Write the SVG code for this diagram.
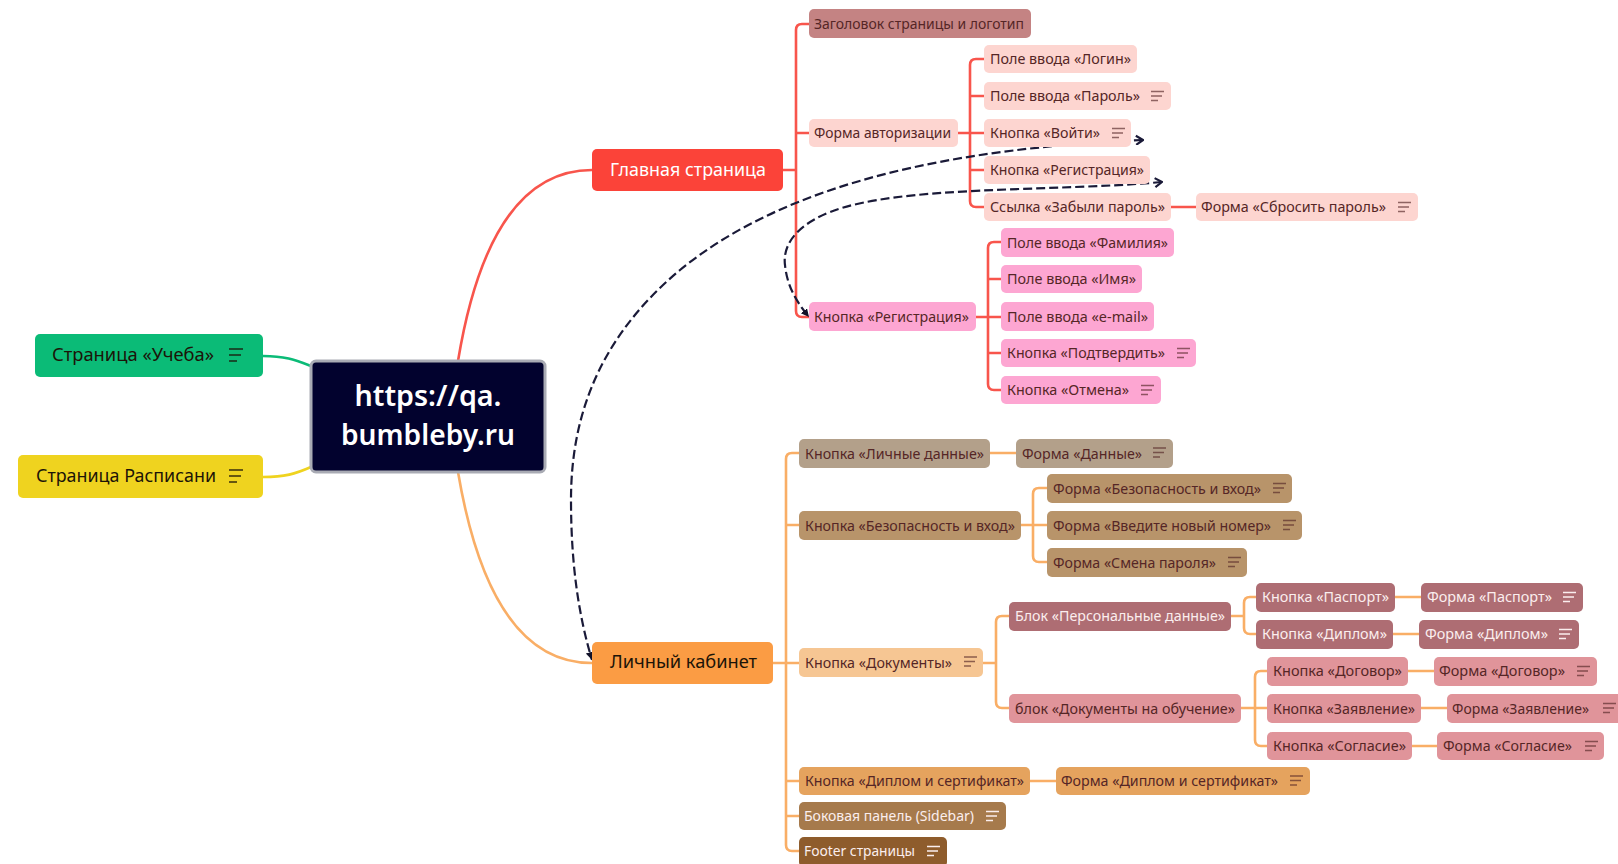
<svg xmlns="http://www.w3.org/2000/svg" width="1618" height="864" viewBox="0 0 1618 864">
<style>
text{font-family:"Noto Sans","Open Sans","Liberation Sans",sans-serif;font-size:14.5px;fill:#552626}
.big{font-size:18.5px;fill:#1c1408}
.root{font-size:29px;font-weight:600;fill:#fff;text-anchor:middle}
.w{fill:#fbeeee}
rect{rx:5px}
.red{fill:#fb4339}.orange{fill:#fb9c44}.green{fill:#0bbb77}.yellow{fill:#efd31f}
.head{fill:#c48383}.pale{fill:#fdd5d0}.pink{fill:#fda6d2}.tan1{fill:#b3a08a}.tan2{fill:#b8946a}
.peach{fill:#f6c693}.mauve{fill:#ae6d73}.rose{fill:#e0949a}.amber{fill:#e5a35e}.br1{fill:#a67a4c}.br2{fill:#8e5c2c}
.c{fill:none;stroke-width:2.6}
.cr{stroke:#f8554c}.co{stroke:#f9ae66}
.d{fill:none;stroke:#1a1a38;stroke-width:2.2;stroke-dasharray:9 4}
.m{fill:none;stroke:#552626;stroke-width:1.5;opacity:.65}
.mb{fill:none;stroke:#1c1408;stroke-width:1.8;opacity:.65}
.mw{fill:none;stroke:#fbeeee;stroke-width:1.6}
</style>
<defs>
<path id="i" d="M0 0h13M0 4.5h11M0 9h7"/>
<path id="ib" d="M0 0h14M0 6h12M0 12h8"/>
<marker id="a" markerUnits="userSpaceOnUse" markerWidth="10" markerHeight="10" refX="8" refY="4" orient="auto"><path d="M0 0L8 4L0 8Z" fill="#111128"/></marker>
<marker id="o" markerUnits="userSpaceOnUse" markerWidth="12" markerHeight="12" refX="1" refY="5" orient="auto"><path d="M8 0.5L1 5L8 9.5" fill="none" stroke="#1a1a38" stroke-width="2.2"/></marker>
</defs>
<rect width="1618" height="864" style="fill:#fff;rx:0"/>
<g id="connectors">
<path class="c cr" d="M458 361C478 240 520 170 592 170"/>
<path class="c co" d="M458 472C478 590 520 663 592 663"/>
<path class="c" stroke="#0bbb77" d="M263 356C285 356 295 360 311 366"/>
<path class="c" stroke="#efd31f" d="M263 477C285 477 295 474 311 467"/>
<path class="c cr" d="M783 170H796M809 24H802Q796 24 796 30V311Q796 317 802 317H809M796 133H809"/>
<path class="c cr" d="M958 133H984M984 59H976Q970 59 970 65V201Q970 207 976 207H984M970 96H984M970 170H984M1171 207H1196"/>
<path class="c cr" d="M976 317H1001M1001 242H994Q988 242 988 248V384Q988 390 994 390H1001M988 279H1001M988 353H1001"/>
<path class="c co" d="M773 663H799M799 453H792Q786 453 786 459V845Q786 851 792 851H799M786 525H799M786 781H799M786 816H799"/>
<path class="c co" d="M990 453H1016M1021 525H1047M1047 488H1039Q1033 488 1033 494V556Q1033 562 1039 562H1047"/>
<path class="c co" d="M983 663H996M1009 616H1002Q996 616 996 622V702Q996 708 1002 708H1009"/>
<path class="c co" d="M1231 616H1244M1256 597H1250Q1244 597 1244 603V628Q1244 634 1250 634H1256M1395 597H1421M1393 634H1419"/>
<path class="c co" d="M1241 708H1267M1267 671H1261Q1255 671 1255 677V740Q1255 746 1261 746H1267M1408 671H1434M1421 708H1447M1412 746H1437M1030 781H1056"/>
<path class="d" marker-start="url(#o)" marker-end="url(#a)" d="M1143 140C960 148 790 180 680 270C590 345 571 430 571 500C571 570 580 620 592 660"/>
<path class="d" marker-start="url(#o)" marker-end="url(#a)" d="M1162 182C1050 192 900 185 830 212C790 228 783 250 785 265C787 285 795 300 809 317"/>
</g>
<g id="n-root"><rect x="311" y="361" width="234" height="111" style="fill:#02022e;stroke:#a9abb4;stroke-width:3"/><text class="root" x="428" y="406" textLength="147" lengthAdjust="spacingAndGlyphs">https://qa.</text><text class="root" x="428" y="445" textLength="174" lengthAdjust="spacingAndGlyphs">bumbleby.ru</text></g>
<g id="n-study"><rect class="green" x="35" y="334" width="228" height="43"/><text class="big" x="52" y="361" textLength="162" lengthAdjust="spacingAndGlyphs">Страница «Учеба»</text><use class="mb" href="#ib" x="229" y="349"/></g>
<g id="n-schedule"><rect class="yellow" x="18" y="455" width="245" height="43"/><text class="big" x="36" y="482" textLength="180" lengthAdjust="spacingAndGlyphs">Страница Расписани</text><use class="mb" href="#ib" x="229" y="470"/></g>
<g id="n-main"><rect class="red" x="592" y="149" width="191" height="42"/><text class="big" x="610" y="176" textLength="156" lengthAdjust="spacingAndGlyphs" style="fill:#fff">Главная страница</text></g>
<g id="n-cabinet"><rect class="orange" x="592" y="642" width="181" height="42"/><text class="big" x="610" y="668" textLength="147" lengthAdjust="spacingAndGlyphs">Личный кабинет</text></g>
<g id="n-title"><rect class="head" x="809" y="9" width="222" height="29"/><text x="814" y="29" textLength="210" lengthAdjust="spacingAndGlyphs">Заголовок страницы и логотип</text></g>
<g id="n-auth"><rect class="pale" x="809" y="119" width="149" height="28"/><text x="814" y="138" textLength="137" lengthAdjust="spacingAndGlyphs">Форма авторизации</text></g>
<g id="n-login"><rect class="pale" x="984" y="45" width="153" height="28"/><text x="990" y="64" textLength="141" lengthAdjust="spacingAndGlyphs">Поле ввода «Логин»</text></g>
<g id="n-pass"><rect class="pale" x="984" y="82" width="187" height="28"/><text x="990" y="101" textLength="150" lengthAdjust="spacingAndGlyphs">Поле ввода «Пароль»</text><use class="m" href="#i" x="1151" y="91.5"/></g>
<g id="n-enter"><rect class="pale" x="984" y="119" width="147" height="28"/><text x="990" y="138" textLength="110" lengthAdjust="spacingAndGlyphs">Кнопка «Войти»</text><use class="m" href="#i" x="1112" y="128.5"/></g>
<g id="n-reg1"><rect class="pale" x="984" y="156" width="166" height="28"/><text x="990" y="175" textLength="154" lengthAdjust="spacingAndGlyphs">Кнопка «Регистрация»</text></g>
<g id="n-forgot"><rect class="pale" x="984" y="193" width="187" height="28"/><text x="990" y="212" textLength="175" lengthAdjust="spacingAndGlyphs">Ссылка «Забыли пароль»</text></g>
<g id="n-reset"><rect class="pale" x="1196" y="193" width="222" height="28"/><text x="1201" y="212" textLength="185" lengthAdjust="spacingAndGlyphs">Форма «Сбросить пароль»</text><use class="m" href="#i" x="1398" y="202.5"/></g>
<g id="n-reg2"><rect class="pink" x="809" y="302" width="167" height="29"/><text x="814" y="322" textLength="155" lengthAdjust="spacingAndGlyphs">Кнопка «Регистрация»</text></g>
<g id="n-surname"><rect class="pink" x="1001" y="228" width="173" height="29"/><text x="1007" y="248" textLength="161" lengthAdjust="spacingAndGlyphs">Поле ввода «Фамилия»</text></g>
<g id="n-name"><rect class="pink" x="1001" y="265" width="141" height="28"/><text x="1007" y="284" textLength="129" lengthAdjust="spacingAndGlyphs">Поле ввода «Имя»</text></g>
<g id="n-email"><rect class="pink" x="1001" y="302" width="153" height="29"/><text x="1007" y="322" textLength="141" lengthAdjust="spacingAndGlyphs">Поле ввода «e-mail»</text></g>
<g id="n-confirm"><rect class="pink" x="1001" y="339" width="195" height="28"/><text x="1007" y="358" textLength="158" lengthAdjust="spacingAndGlyphs">Кнопка «Подтвердить»</text><use class="m" href="#i" x="1177" y="348.5"/></g>
<g id="n-cancel"><rect class="pink" x="1001" y="376" width="160" height="28"/><text x="1007" y="395" textLength="122" lengthAdjust="spacingAndGlyphs">Кнопка «Отмена»</text><use class="m" href="#i" x="1141" y="385.5"/></g>
<g id="n-personal"><rect class="tan1" x="799" y="439" width="191" height="29"/><text x="805" y="459" textLength="179" lengthAdjust="spacingAndGlyphs">Кнопка «Личные данные»</text></g>
<g id="n-fdata"><rect class="tan1" x="1016" y="439" width="157" height="29"/><text x="1022" y="459" textLength="120" lengthAdjust="spacingAndGlyphs">Форма «Данные»</text><use class="m" href="#i" x="1153" y="448"/></g>
<g id="n-sec"><rect class="tan2" x="799" y="511" width="222" height="29"/><text x="805" y="531" textLength="210" lengthAdjust="spacingAndGlyphs">Кнопка «Безопасность и вход»</text></g>
<g id="n-fsec"><rect class="tan2" x="1047" y="474" width="245" height="29"/><text x="1053" y="494" textLength="208" lengthAdjust="spacingAndGlyphs">Форма «Безопасность и вход»</text><use class="m" href="#i" x="1273" y="483.5"/></g>
<g id="n-fphone"><rect class="tan2" x="1047" y="511" width="255" height="29"/><text x="1053" y="531" textLength="218" lengthAdjust="spacingAndGlyphs">Форма «Введите новый номер»</text><use class="m" href="#i" x="1283" y="520.5"/></g>
<g id="n-fpwd"><rect class="tan2" x="1047" y="548" width="200" height="29"/><text x="1053" y="568" textLength="163" lengthAdjust="spacingAndGlyphs">Форма «Смена пароля»</text><use class="m" href="#i" x="1228" y="557.5"/></g>
<g id="n-docs"><rect class="peach" x="799" y="648" width="184" height="29"/><text x="805" y="668" textLength="147" lengthAdjust="spacingAndGlyphs">Кнопка «Документы»</text><use class="m" href="#i" x="964" y="657"/></g>
<g id="n-bpers"><rect class="mauve" x="1009" y="602" width="222" height="29"/><text class="w" x="1015" y="621" textLength="210" lengthAdjust="spacingAndGlyphs">Блок «Персональные данные»</text></g>
<g id="n-bedu"><rect class="rose" x="1009" y="694" width="232" height="29"/><text x="1015" y="714" textLength="220" lengthAdjust="spacingAndGlyphs">блок «Документы на обучение»</text></g>
<g id="n-passport"><rect class="mauve" x="1256" y="583" width="139" height="29"/><text class="w" x="1262" y="602" textLength="127" lengthAdjust="spacingAndGlyphs">Кнопка «Паспорт»</text></g>
<g id="n-fpassport"><rect class="mauve" x="1421" y="583" width="162" height="29"/><text class="w" x="1427" y="602" textLength="125" lengthAdjust="spacingAndGlyphs">Форма «Паспорт»</text><use class="mw" href="#i" x="1563" y="592.5"/></g>
<g id="n-diploma"><rect class="mauve" x="1256" y="620" width="137" height="29"/><text class="w" x="1262" y="639" textLength="125" lengthAdjust="spacingAndGlyphs">Кнопка «Диплом»</text></g>
<g id="n-fdiploma"><rect class="mauve" x="1419" y="620" width="160" height="29"/><text class="w" x="1425" y="639" textLength="123" lengthAdjust="spacingAndGlyphs">Форма «Диплом»</text><use class="mw" href="#i" x="1559" y="629.5"/></g>
<g id="n-contract"><rect class="rose" x="1267" y="657" width="141" height="29"/><text x="1273" y="676" textLength="129" lengthAdjust="spacingAndGlyphs">Кнопка «Договор»</text></g>
<g id="n-fcontract"><rect class="rose" x="1434" y="657" width="163" height="29"/><text x="1439" y="676" textLength="126" lengthAdjust="spacingAndGlyphs">Форма «Договор»</text><use class="m" href="#i" x="1577" y="666.5"/></g>
<g id="n-request"><rect class="rose" x="1267" y="694" width="154" height="29"/><text x="1273" y="714" textLength="142" lengthAdjust="spacingAndGlyphs">Кнопка «Заявление»</text></g>
<g id="n-frequest"><rect class="rose" x="1447" y="694" width="177" height="29"/><text x="1452" y="714" textLength="137" lengthAdjust="spacingAndGlyphs">Форма «Заявление»</text><use class="m" href="#i" x="1603" y="703.5"/></g>
<g id="n-consent"><rect class="rose" x="1267" y="732" width="145" height="28"/><text x="1273" y="751" textLength="133" lengthAdjust="spacingAndGlyphs">Кнопка «Согласие»</text></g>
<g id="n-fconsent"><rect class="rose" x="1437" y="732" width="167" height="28"/><text x="1443" y="751" textLength="129" lengthAdjust="spacingAndGlyphs">Форма «Согласие»</text><use class="m" href="#i" x="1585" y="741.5"/></g>
<g id="n-dipcert"><rect class="amber" x="799" y="767" width="231" height="28"/><text x="805" y="786" textLength="219" lengthAdjust="spacingAndGlyphs">Кнопка «Диплом и сертификат»</text></g>
<g id="n-fdipcert"><rect class="amber" x="1056" y="767" width="254" height="28"/><text x="1061" y="786" textLength="217" lengthAdjust="spacingAndGlyphs">Форма «Диплом и сертификат»</text><use class="m" href="#i" x="1290" y="776"/></g>
<g id="n-sidebar"><rect class="br1" x="799" y="802" width="207" height="28"/><text class="w" x="804" y="821" textLength="170" lengthAdjust="spacingAndGlyphs">Боковая панель (Sidebar)</text><use class="mw" href="#i" x="986" y="811.5"/></g>
<g id="n-footer"><rect class="br2" x="799" y="837" width="148" height="30"/><text class="w" x="804" y="856" textLength="111" lengthAdjust="spacingAndGlyphs">Footer страницы</text><use class="mw" href="#i" x="927" y="846.5"/></g>
</svg>
